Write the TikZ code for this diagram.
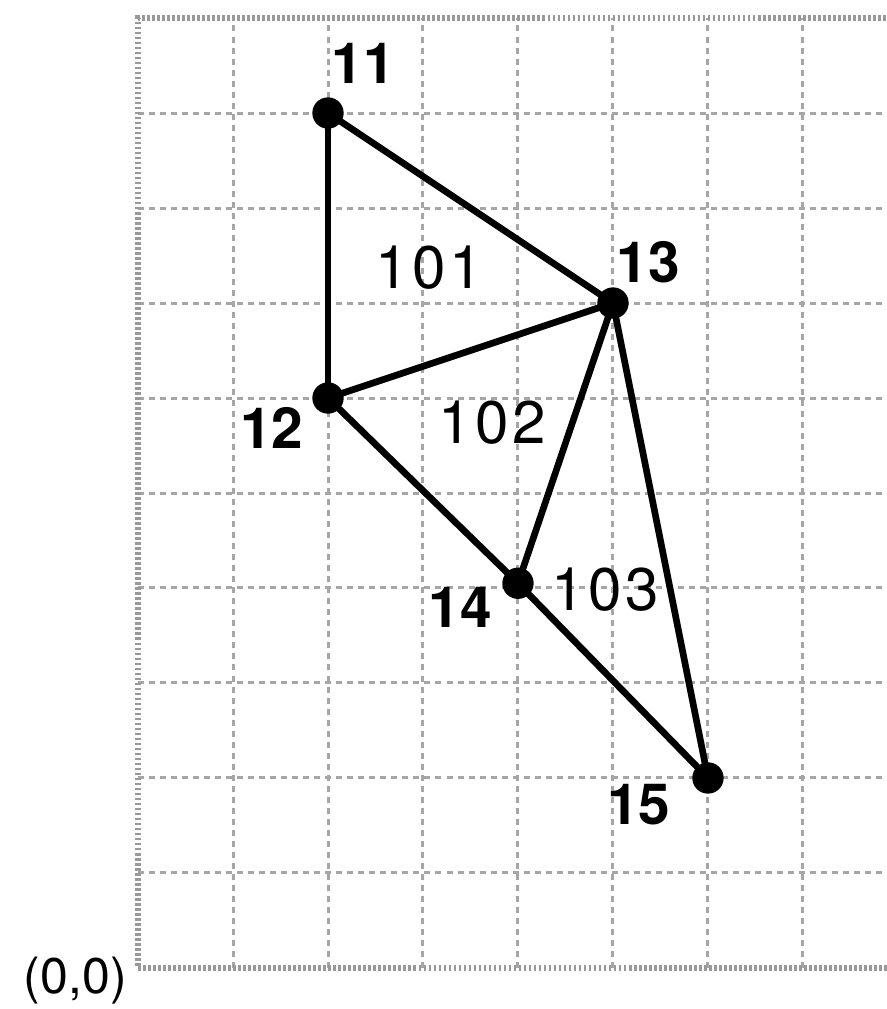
\documentclass[tikz,border=0pt]{standalone}
\usepackage{fontspec}
\setmainfont{TeX Gyre Heros}
\begin{document}
\begin{tikzpicture}[
  gridline/.style={gray!70, line width=0.9pt, dash pattern=on 1.8pt off 1.5pt},
  borderline/.style={gray!80, line width=1.6pt, dash pattern=on 0.8pt off 0.7pt},
  pt/.style={circle, fill=black, inner sep=0pt, minimum size=0.33cm},
  edge/.style={line width=2pt},
  vlabel/.style={font=\fontsize{17}{20}\selectfont\bfseries},
  flabel/.style={font=\fontsize{18}{21}\selectfont\addfontfeature{LetterSpace=6}}
]
\clip (-1.453,-0.432) rectangle (7.884,10.19);
\useasboundingbox (-1.453,-0.432) rectangle (7.884,10.19);
% grid
\foreach \x in {1,...,7} \draw[gridline] (\x,0) -- (\x,10);
\foreach \y in {1,...,9} \draw[gridline] (0,\y) -- (8.2,\y);
\draw[borderline] (8.2,0) -- (0,0) -- (0,10) -- (8.2,10);
% points
\node[pt] (n11) at (2,9) {};
\node[pt] (n12) at (2,6) {};
\node[pt] (n13) at (5,7) {};
\node[pt] (n14) at (4,4.05) {};
\node[pt] (n15) at (6,2) {};
% edges
\draw[edge] (n11.center) -- (n12.center);
\draw[edge] (n11.center) -- (n13.center);
\draw[edge] (n12.center) -- (n13.center);
\draw[edge] (n12.center) -- (n14.center);
\draw[edge] (n13.center) -- (n14.center);
\draw[edge] (n13.center) -- (n15.center);
\draw[edge] (n14.center) -- (n15.center);
% labels
\node[vlabel] (l11) at (2.37,9.52) {11};
\node[vlabel] (l12) at (1.41,5.68) {12};
\node[vlabel] (l13) at (5.37,7.43) {13};
\node[vlabel] (l14) at (3.39,3.8) {14};
\node[vlabel] (l15) at (5.27,1.72) {15};
\node[flabel] (f101) at (3.07,7.37) {101};
\node[flabel] (f102) at (3.73,5.74) {102};
\node[flabel] (f103) at (4.92,3.98) {103};
\node[font=\fontsize{15}{18}\selectfont] (origin) at (-0.66,-0.13) {(0,0)};
\end{tikzpicture}
\end{document}
